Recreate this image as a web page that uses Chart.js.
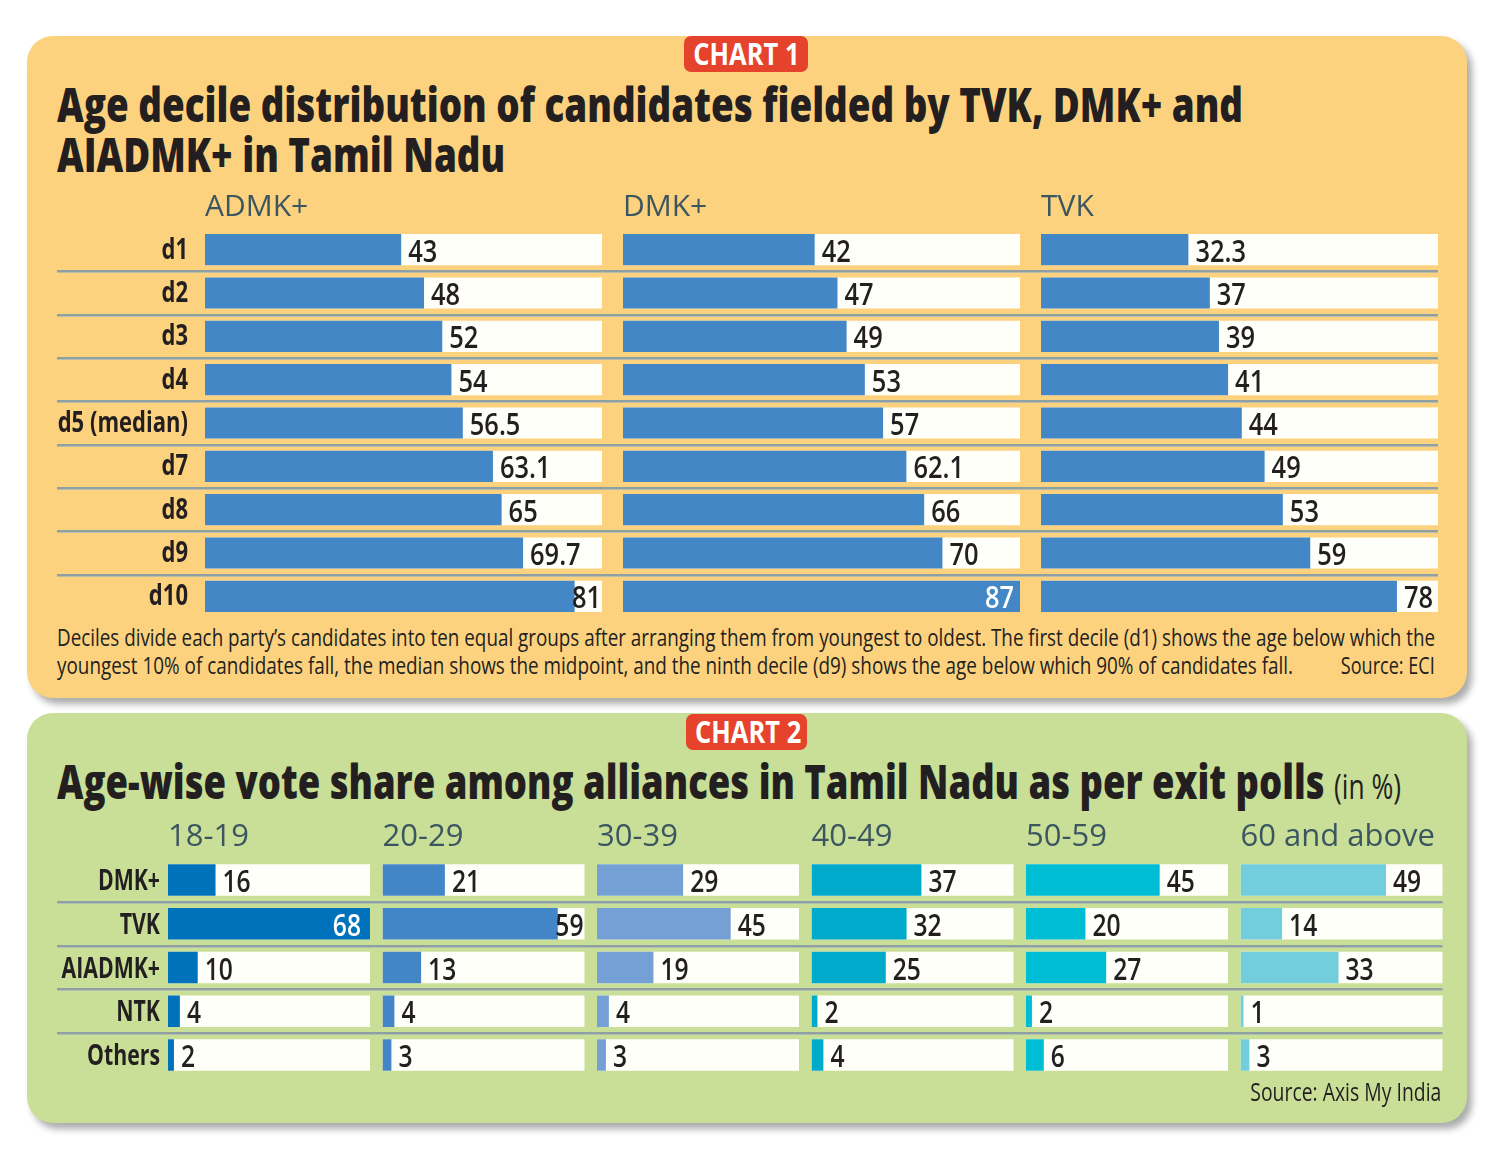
<!DOCTYPE html>
<html>
<head>
<meta charset="utf-8">
<script src="https://cdn.jsdelivr.net/npm/chart.js@4.4.1/dist/chart.umd.min.js"></script>
<style>
  body { margin:0; width:1501px; height:1159px; position:relative; background:#fff; overflow:hidden;
         font-family:'Open Sans',sans-serif; color:#231f20; }
  .panel { position:absolute; left:27px; width:1440px; border-radius:26px; box-shadow:5px 6px 7px rgba(0,0,0,0.33); }
  #p1 { top:36px; height:662px; background:#fdd27f; }
  #p2 { top:713px; height:410px; background:#c9df97; }
  .badge { position:absolute; height:36px; background:#e5432c; border-radius:7px; }
  .badge span { position:absolute; left:0; right:0; top:-2px; text-align:center; color:#fff; font-weight:bold;
                font-size:30px; line-height:40px; white-space:nowrap; }
  .txt { position:absolute; white-space:nowrap; transform-origin:0 0; line-height:1; }
  .title { font-size:47px; font-weight:800; color:#231f20; }
  .note { font-size:24px; color:#231f20; }
  canvas { position:absolute; }
</style>
</head>
<body>
<div class="panel" id="p1"></div>
<div class="panel" id="p2"></div>
<div class="badge" style="left:684px;top:36px;width:124px"><span id="b1">CHART 1</span></div>
<div class="badge" style="left:686px;top:714px;width:121px"><span id="b2">CHART 2</span></div>

<div class="txt title" id="t1a" style="left:57px;top:81px">Age decile distribution of candidates fielded by TVK, DMK+ and</div>
<div class="txt title" id="t1b" style="left:57px;top:131px">AIADMK+ in Tamil Nadu</div>
<canvas id="c1" width="1405" height="440" style="left:57px;top:180px"></canvas>
<div class="txt note" id="n1" style="left:57px;top:625px">Deciles divide each party’s candidates into ten equal groups after arranging them from youngest to oldest. The first decile (d1) shows the age below which the</div>
<div class="txt note" id="n2" style="left:57px;top:653px">youngest 10% of candidates fall, the median shows the midpoint, and the ninth decile (d9) shows the age below which 90% of candidates fall.</div>
<div class="txt note" id="s1" style="right:66px;top:653px;transform-origin:100% 0">Source: ECI</div>

<div class="txt title" id="t2" style="left:57px;top:758px">Age-wise vote share among alliances in Tamil Nadu as per exit polls <span style="font-weight:normal;font-size:34px">(in %)</span></div>
<canvas id="c2" width="1400" height="267" style="left:57px;top:812px"></canvas>
<div class="txt note" id="s2" style="right:60px;top:1079px;font-size:25px;transform-origin:100% 0">Source: Axis My India</div>

<script>
const FONT = "'Open Sans', sans-serif";

// chart 1: age deciles of candidates
const deciles = ['d1', 'd2', 'd3', 'd4', 'd5 (median)', 'd7', 'd8', 'd9', 'd10'];
const parties = ['ADMK+', 'DMK+', 'TVK'];
const admkAges = [43, 48, 52, 54, 56.5, 63.1, 65, 69.7, 81];
const dmkAges = [42, 47, 49, 53, 57, 62.1, 66, 70, 87];
const tvkAges = [32.3, 37, 39, 41, 44, 49, 53, 59, 78];
const ageMax = 87;

// chart 2: vote share by age group (in %)
const alliances = ['DMK+', 'TVK', 'AIADMK+', 'NTK', 'Others'];
const ageGroups = ['18-19', '20-29', '30-39', '40-49', '50-59', '60 and above'];
const share18to19 = [16, 68, 10, 4, 2];
const share20to29 = [21, 59, 13, 4, 3];
const share30to39 = [29, 45, 19, 4, 3];
const share40to49 = [37, 32, 25, 2, 4];
const share50to59 = [45, 20, 27, 2, 6];
const share60plus = [49, 14, 33, 1, 3];
const shareMax = 68;

const partyColors = ['#4387c7', '#4387c7', '#4387c7'];
const ageColors = ['#0072bc', '#4386c7', '#74a0d6', '#00aacb', '#00bdd6', '#72cddd'];

// draw text squeezed horizontally (the print face is a condensed one)
function squeezed(ctx, text, x, y, k, align) {
  ctx.save();
  ctx.translate(x, y);
  ctx.scale(k, 1);
  ctx.textAlign = align;
  ctx.fillText(text, 0, 0);
  ctx.restore();
}

// rules between rows plus the row names in the left column
const rowRules = {
  id: 'rowRules',
  beforeDatasetsDraw(chart, args, o) {
    const y = chart.scales.y, ctx = chart.ctx;
    const x1 = chart.scales['x' + (o.cols - 1)].getPixelForValue(o.max);
    ctx.save();
    for (let i = 0; i < chart.data.labels.length - 1; i++) {
      const yy = Math.round((y.getPixelForValue(i) + y.getPixelForValue(i + 1)) / 2);
      ctx.fillStyle = '#8fa0a5';
      ctx.fillRect(y.left, yy - 1, x1 - y.left, 2);
      ctx.fillStyle = 'rgba(170,182,180,0.8)';
      ctx.fillRect(y.left, yy + 1, x1 - y.left, 1);
    }
    ctx.fillStyle = '#231f20';
    ctx.font = 'bold ' + o.catSize + 'px ' + FONT;
    ctx.textBaseline = 'alphabetic';
    chart.data.labels.forEach((t, i) => {
      squeezed(ctx, t, chart.chartArea.left - o.catPad, y.getPixelForValue(i) + o.catDy, o.squeeze, 'right');
    });
    ctx.restore();
  }
};

// value next to the end of each bar, white inside the bar when it fills the track
const valueLabels = {
  id: 'valueLabels',
  afterDatasetsDraw(chart, args, o) {
    const ctx = chart.ctx;
    chart.data.datasets.forEach((ds, di) => {
      if (ds.track) return;
      const end = chart.scales[ds.xAxisID].getPixelForValue(o.max);
      ctx.save();
      ctx.font = '600 ' + o.size + 'px ' + FONT;
      ctx.textBaseline = 'alphabetic';
      chart.getDatasetMeta(di).data.forEach((bar, i) => {
        const v = ds.data[i];
        const t = String(v);
        const w = ctx.measureText(t).width * o.squeeze;
        const yy = bar.y + o.dy;
        if (v >= o.max) {
          ctx.fillStyle = '#ffffff';
          squeezed(ctx, t, end - o.inset, yy, o.squeeze, 'right');
        } else {
          ctx.fillStyle = '#231f20';
          squeezed(ctx, t, Math.min(bar.x + 7, end - w - 1), yy, o.squeeze, 'left');
        }
      });
      ctx.restore();
    });
  }
};

function smallMultiples(canvasId, cats, cols, series, colors, max, cfg) {
  const scales = {
    y: {
      type: 'category', position: 'left',
      grid: { display: false, drawTicks: false }, border: { display: false },
      ticks: { display: false, padding: 0 },
      afterFit: s => { s.width = cfg.catWidth; }
    }
  };
  const datasets = [];
  // top axes in one stack are laid out from the last one added, so add them backwards
  for (let i = series.length - 1; i >= 0; i--) {
    scales['x' + i] = {
      type: 'linear', position: 'top', stack: 'cols', stackWeight: 1,
      min: 0, max: max / cfg.trackFrac,
      grid: { display: false, drawTicks: false }, border: { display: false },
      ticks: { display: false },
      title: { display: true, text: cols[i], align: 'start', color: '#3c5661',
               font: { family: FONT, size: cfg.headSize, weight: '500' }, padding: { top: 0, bottom: cfg.headGap } }
    };
  }
  series.forEach((vals, i) => {
    datasets.push({ label: cols[i] + ' track', data: cats.map(() => max), xAxisID: 'x' + i,
                    backgroundColor: '#fffffa', order: 2, track: true });
    datasets.push({ label: cols[i], data: vals, xAxisID: 'x' + i, backgroundColor: colors[i], order: 1 });
  });
  return new Chart(document.getElementById(canvasId), {
    type: 'bar',
    data: { labels: cats, datasets: datasets },
    options: {
      indexAxis: 'y',
      responsive: false,
      animation: false,
      layout: { padding: cfg.pad },
      datasets: { bar: { grouped: false, categoryPercentage: 1, barPercentage: cfg.barPct } },
      scales: scales,
      plugins: {
        legend: { display: false },
        tooltip: { enabled: false },
        rowRules: { max: max, cols: cols.length, catSize: cfg.catSize, catPad: cfg.catPad, catDy: cfg.catDy, squeeze: 0.76 },
        valueLabels: { max: max, size: cfg.valSize, inset: cfg.inset, dy: cfg.valDy, squeeze: cfg.valSqueeze }
      }
    },
    plugins: [rowRules, valueLabels]
  });
}

smallMultiples('c1', deciles, parties, [admkAges, dmkAges, tvkAges], partyColors, ageMax, {
  catWidth: 148, catSize: 29, catPad: 17, catDy: 9, headSize: 30, headGap: 3,
  trackFrac: 397 / 418, barPct: 0.72, valSize: 31, valDy: 12, valSqueeze: 0.82, inset: 6,
  pad: { top: 9, bottom: 2, left: 0, right: 3 }
});

smallMultiples('c2', alliances, ageGroups,
  [share18to19, share20to29, share30to39, share40to49, share50to59, share60plus], ageColors, shareMax, {
  catWidth: 111, catSize: 28, catPad: 8, catDy: 10, headSize: 31, headGap: 2,
  trackFrac: 202 / 214.5, barPct: 0.72, valSize: 30, valDy: 12, valSqueeze: 0.82, inset: 9,
  pad: { top: 7, bottom: 2, left: 0, right: 2 }
});

// squeeze the html text lines to the widths they take in the print layout
function fit(id, w, k) {
  const el = document.getElementById(id);
  k = k || w / el.getBoundingClientRect().width;
  el.style.transform = 'scaleX(' + k + ')';
  return k;
}
const k1 = fit('t1a', 1186);
fit('t1b', 0, k1);
fit('n1', 1378);
fit('n2', 1236);
fit('s1', 94);
fit('t2', 1344);
fit('s2', 191);
fit('b1', 0, 0.85);
fit('b2', 0, 0.85);
</script>
</body>
</html>
